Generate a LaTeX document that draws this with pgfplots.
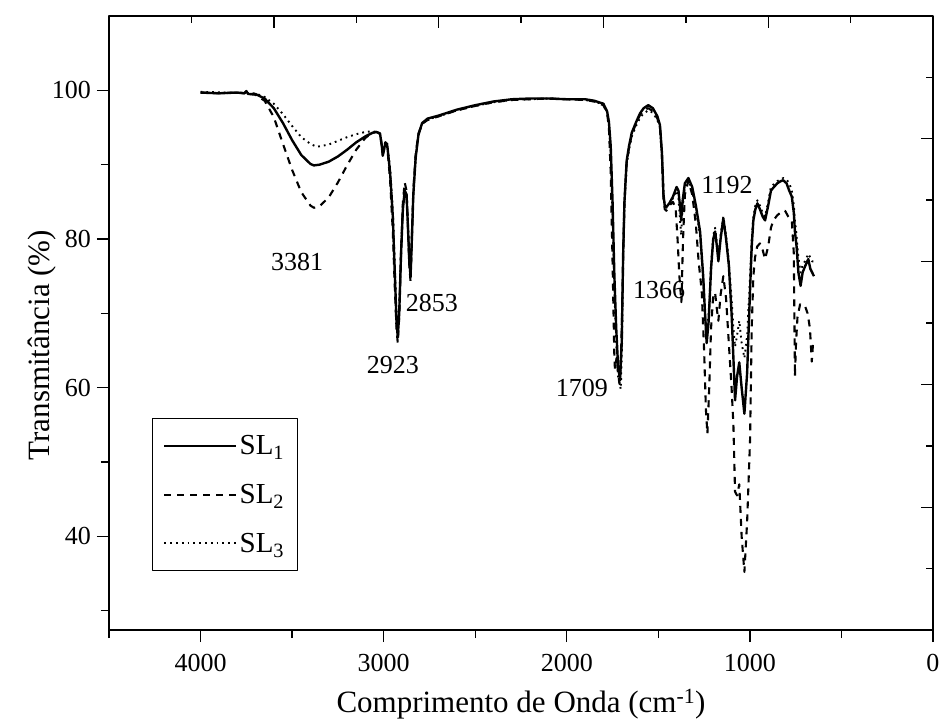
\documentclass[border=0pt]{standalone}
\usepackage{fontspec}
\setmainfont{Liberation Serif}
\usepackage{pgfplots}
\usepackage{pgfplotstable}
\pgfplotsset{compat=1.18}
\newcommand\tk{\fontsize{26}{29}\selectfont}
\newcommand\lgf{\fontsize{29}{31}\selectfont}
\newcommand\lb{\fontsize{31}{34}\selectfont}

\pgfplotstableread{
x y
4000 99.7
3900 99.6
3800 99.7
3760 99.6
3750 99.9
3740 99.5
3700 99.5
3650 98.9
3600 97.6
3550 95.6
3500 93.3
3450 91.3
3400 90.1
3381 89.9
3350 90.0
3300 90.4
3250 91.1
3200 92.0
3150 93.0
3100 93.8
3060 94.3
3040 94.4
3020 94.2
3010 92.5
3005 91.2
2998 92.0
2990 93.0
2980 92.5
2965 89.0
2950 83.0
2940 76.0
2930 69.0
2923 66.8
2915 70.0
2905 78.0
2895 84.0
2885 86.5
2875 86.0
2868 82.0
2860 77.0
2853 75.0
2846 80.0
2838 86.0
2825 91.0
2810 94.0
2790 95.6
2760 96.2
2700 96.6
2600 97.4
2500 98.0
2400 98.5
2300 98.8
2200 98.9
2100 98.9
2000 98.8
1900 98.8
1850 98.6
1800 98.2
1780 97.2
1770 95.8
1760 92.5
1750 85.0
1740 75.0
1730 68.0
1720 63.0
1709 61.0
1700 66.0
1692 78.0
1685 85.0
1673 90.5
1660 92.5
1645 94.3
1620 95.8
1600 96.9
1580 97.6
1555 98.0
1530 97.6
1505 96.5
1491 95.3
1480 91.5
1472 86.0
1465 84.5
1456 84.3
1440 84.8
1420 85.7
1400 87.0
1390 86.5
1380 84.0
1375 82.5
1368 85.0
1355 87.5
1336 88.2
1315 87.0
1295 84.5
1272 81.0
1255 75.0
1245 70.0
1236 66.0
1225 69.0
1212 76.0
1200 80.0
1190 81.0
1180 79.0
1172 77.0
1160 80.0
1145 82.8
1130 80.0
1115 76.5
1100 70.0
1090 64.0
1081 58.3
1070 61.5
1058 63.4
1045 60.0
1030 56.5
1015 62.0
999 73.2
990 79.0
981 82.5
970 84.0
959 84.8
945 84.0
930 83.0
917 82.5
900 84.5
885 86.5
872 86.9
850 87.5
830 87.8
818 87.9
800 87.5
785 86.5
771 85.7
760 83.5
754 81.0
745 79.0
735 75.5
723 73.7
712 75.5
699 76.3
690 76.8
681 77.3
670 76.0
660 75.5
650 75.0
}\slone

\pgfplotstableread{
x y
4000 99.7
3900 99.6
3800 99.7
3760 99.6
3750 99.9
3740 99.5
3700 99.4
3650 98.6
3600 96.4
3550 92.8
3500 89.3
3450 86.3
3400 84.5
3381 84.2
3350 84.4
3300 85.6
3250 87.6
3200 89.9
3150 92.0
3100 93.6
3060 94.3
3040 94.4
3020 94.2
3010 92.6
3005 91.4
2998 92.0
2990 93.0
2980 92.3
2965 88.0
2950 81.0
2940 74.0
2930 68.0
2923 66.0
2915 69.5
2905 78.0
2895 85.0
2885 87.6
2875 86.5
2868 82.0
2860 76.5
2853 74.2
2846 80.0
2838 86.5
2825 91.5
2810 94.2
2790 95.5
2760 96.0
2700 96.5
2600 97.3
2500 97.9
2400 98.4
2300 98.7
2200 98.8
2100 98.9
2000 98.8
1900 98.7
1850 98.5
1800 98.0
1780 97.0
1770 95.0
1760 89.0
1750 77.0
1740 64.0
1737 62.5
1728 64.0
1720 62.0
1712 60.5
1705 63.0
1698 70.0
1692 78.0
1685 85.0
1673 90.2
1660 92.3
1645 94.0
1620 95.7
1600 96.7
1580 97.3
1555 97.6
1530 97.2
1505 96.2
1491 95.0
1480 91.0
1472 85.5
1465 84.0
1456 83.8
1440 84.5
1420 85.0
1405 84.0
1395 80.0
1385 75.0
1374 71.5
1365 80.0
1355 86.0
1336 87.8
1315 86.0
1295 82.0
1280 77.0
1263 73.0
1250 65.0
1240 57.0
1232 53.8
1222 60.0
1212 68.0
1200 72.5
1190 72.8
1180 70.5
1172 69.0
1160 72.5
1145 75.0
1130 72.0
1115 66.0
1100 60.0
1090 55.0
1081 46.0
1070 45.5
1058 47.0
1045 40.0
1030 35.2
1015 42.0
999 53.0
990 68.0
981 75.0
972 77.5
960 79.0
945 79.4
930 78.5
917 77.3
900 79.0
885 81.5
872 82.5
850 83.2
830 83.6
808 83.8
790 83.0
771 82.5
760 78.0
754 61.5
748 66.0
740 69.5
726 71.2
712 71.0
699 71.0
685 70.0
672 68.0
662 63.5
655 66.0
650 65.5
}\sltwo

\pgfplotstableread{
x y
4000 99.8
3700 99.6
3650 99.1
3600 98.2
3550 96.8
3500 95.2
3450 93.7
3400 92.8
3366 92.4
3300 92.7
3250 93.2
3200 93.7
3150 94.1
3100 94.4
3060 94.5
3040 94.4
3020 94.1
3010 92.8
3005 91.6
2998 92.3
2990 93.2
2980 92.8
2965 89.5
2950 84.0
2940 77.0
2930 70.0
2923 67.5
2915 71.0
2905 79.0
2895 84.5
2885 86.5
2875 86.0
2868 82.5
2860 78.0
2853 75.5
2846 80.5
2838 86.0
2825 91.0
2810 94.0
2790 95.5
2760 96.1
2700 96.5
2600 97.3
2500 97.9
2400 98.4
2300 98.7
2200 98.8
2100 98.9
2000 98.8
1900 98.7
1850 98.5
1800 98.1
1780 97.1
1770 95.5
1760 91.5
1750 83.0
1740 73.0
1730 66.0
1720 61.5
1705 59.8
1698 66.0
1692 77.0
1685 84.5
1673 90.0
1660 92.0
1645 93.8
1620 95.3
1600 96.3
1580 96.9
1555 97.3
1530 97.0
1505 96.0
1491 95.0
1480 91.0
1472 86.0
1465 84.5
1456 84.2
1440 84.5
1420 85.5
1400 86.5
1390 85.5
1380 82.0
1375 80.5
1368 84.0
1355 87.0
1336 88.0
1315 86.5
1295 84.0
1272 80.5
1255 74.5
1245 70.0
1236 67.0
1225 70.0
1212 76.5
1200 80.5
1190 81.5
1180 79.5
1172 77.5
1160 80.5
1145 83.0
1130 80.5
1115 77.0
1100 72.0
1090 68.0
1081 65.5
1070 67.0
1058 69.0
1045 66.0
1030 64.0
1015 67.0
999 75.0
990 80.0
981 83.0
970 84.5
959 85.2
945 84.5
930 83.5
917 83.0
900 85.0
885 87.0
872 87.3
850 87.8
830 88.0
818 88.2
800 88.0
785 87.5
771 86.5
760 84.5
754 82.5
745 80.5
735 77.5
723 75.5
712 76.5
699 77.0
690 77.5
681 78.0
670 77.5
660 77.0
650 77.0
}\slthree

\begin{document}
\begin{tikzpicture}
\path[use as bounding box] (0,0) rectangle (939pt,724pt);
\begin{axis}[
  at={(109pt,94pt)}, anchor=south west,
  scale only axis, width=824pt, height=614pt,
  x dir=reverse, xmin=0, xmax=4500, ymin=27.4, ymax=110,
  xtick={0,1000,2000,3000,4000},
  minor xtick={500,1500,2500,3500,4500},
  ytick={40,60,80,100},
  minor ytick={30,50,70,90},
  xtick pos=left, ytick pos=left,
  tick align=outside,
  major tick length=12pt, minor tick length=8pt,
  every tick/.style={black, line width=1.4pt},
  every minor tick/.style={black, line width=1.4pt},
  axis line style={line width=1.6pt},
  /pgf/number format/1000 sep={},
  /pgf/number format/assume math mode=true,
  tick label style={font=\tk},
  xticklabel style={inner sep=1pt, yshift=-11pt},
  yticklabel style={inner sep=1pt, xshift=-5pt},
  xlabel={Comprimento de Onda (cm\textsuperscript{-1})},
  ylabel={Transmitância (\%)},
  label style={font=\lb},
  xlabel style={at={(axis description cs:0.5,-0.1336)}, anchor=base},
  ylabel style={at={(axis description cs:-0.0716,0.464)}, anchor=base},
  legend style={at={(axis description cs:0.052,0.096)}, anchor=south west,
    draw=black, line width=0.8pt, font=\lgf, row sep=24pt,
    inner xsep=11pt, inner ysep=15pt, cells={anchor=west}},
  legend image code/.code={\draw[#1] (0pt,0pt) -- (72pt,0pt);},
  line join=round,
]
\addplot[black, line width=2.4pt] table {\slone};
\addlegendentry{\lgf SL\textsubscript{1}}
\addplot[black, line width=2.1pt, dash pattern=on 7pt off 6pt] table {\sltwo};
\addlegendentry{\lgf SL\textsubscript{2}}
\addplot[black, line width=1.9pt, dash pattern=on 1.8pt off 4pt] table {\slthree};
\addlegendentry{\lgf SL\textsubscript{3}}
\node[font=\tk] at (axis cs:3473,76.9) {3381};
\node[font=\tk] at (axis cs:2949,63.1) {2923};
\node[font=\tk] at (axis cs:2737,71.4) {2853};
\node[font=\tk] at (axis cs:1917,60.0) {1709};
\node[font=\tk] at (axis cs:1495,73.2) {1366};
\node[font=\tk] at (axis cs:1125,87.2) {1192};
\end{axis}
\begin{axis}[
  at={(109pt,94pt)}, anchor=south west,
  scale only axis, width=824pt, height=614pt,
  xmin=0, xmax=10, ymin=0, ymax=10,
  axis x line*=top, axis y line*=right,
  xtick={0,2,...,10}, minor xtick={1,3,...,9},
  ytick={0,2,...,10}, minor ytick={1,3,...,9},
  xticklabels={}, yticklabels={},
  tick align=inside,
  major tick length=12pt, minor tick length=7pt,
  every tick/.style={black, line width=1.4pt},
  every minor tick/.style={black, line width=1.4pt},
  axis line style={line width=1.6pt, -},
]
\end{axis}
\end{tikzpicture}
\end{document}
